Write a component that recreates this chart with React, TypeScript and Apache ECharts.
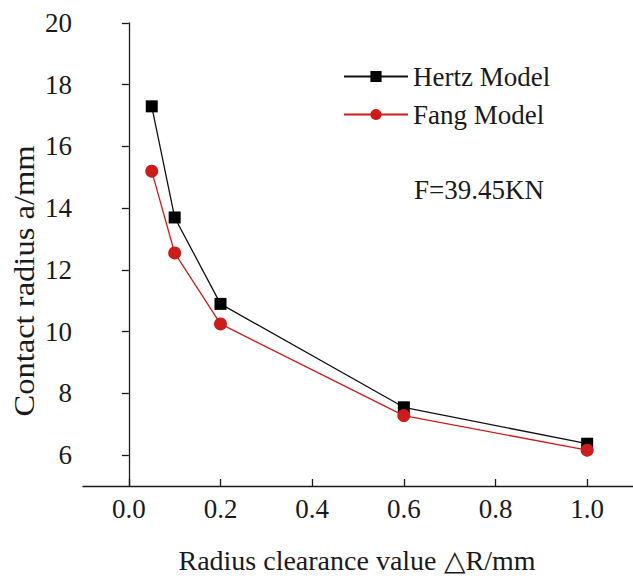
import React, { useEffect, useRef } from "react";
import * as echarts from "echarts";

// Radius clearance ΔR (mm)
const clearance = [0.05, 0.1, 0.2, 0.6, 1.0];
// Contact radius a (mm) by model
const hertzRadius = [17.3, 13.7, 10.9, 7.55, 6.37];
const fangRadius = [15.2, 12.55, 10.25, 7.28, 6.16];

const xTicks = [0.0, 0.2, 0.4, 0.6, 0.8, 1.0];
const yTicks = [6, 8, 10, 12, 14, 16, 18, 20];

const seriesNames = ["Hertz Model", "Fang Model"];
const loadLabel = "F=39.45KN";
const xAxisTitle = "Radius clearance value \u25B3R/mm";
const yAxisTitle = "Contact radius a/mm";

const FONT = "'Liberation Serif', 'Times New Roman', serif";
const INK = "#1a1a1a";
const RED = "#cc1c1c";

export default function App() {
  const ref = useRef<HTMLDivElement>(null);

  useEffect(() => {
    if (!ref.current) return;
    const chart = echarts.init(ref.current, undefined, { renderer: "svg" });

    const toPairs = (ys: number[]) => clearance.map((x, i) => [x, ys[i]]);

    chart.setOption({
      animation: false,
      backgroundColor: "#ffffff",
      grid: { left: 83, right: 0, top: 23, bottom: 96, containLabel: false },
      legend: {
        orient: "vertical",
        left: 343,
        top: 63,
        padding: 0,
        itemWidth: 64,
        itemHeight: 14,
        itemGap: 11,
        textStyle: { fontFamily: FONT, fontSize: 27, color: INK },
        data: seriesNames,
      },
      xAxis: {
        type: "value",
        min: -0.1,
        max: 1.1,
        axisLine: { show: true, lineStyle: { color: INK, width: 1.3 } },
        axisTick: {
          show: true,
          inside: true,
          length: 7,
          customValues: xTicks,
          lineStyle: { color: INK, width: 1.3 },
        },
        axisLabel: {
          customValues: xTicks,
          margin: 9,
          fontFamily: FONT,
          fontSize: 27,
          color: INK,
          formatter: (v: number) => v.toFixed(1),
        },
        splitLine: { show: false },
      },
      yAxis: {
        type: "value",
        min: 5,
        max: 20,
        axisLine: { show: true, lineStyle: { color: INK, width: 1.3 } },
        axisTick: {
          show: true,
          inside: false,
          length: 7,
          customValues: yTicks,
          lineStyle: { color: INK, width: 1.3 },
        },
        axisLabel: {
          customValues: yTicks,
          margin: 11,
          fontFamily: FONT,
          fontSize: 27,
          color: INK,
        },
        splitLine: { show: false },
      },
      series: [
        {
          name: seriesNames[0],
          type: "line",
          data: toPairs(hertzRadius),
          symbol: "rect",
          symbolSize: 12,
          lineStyle: { color: "#111111", width: 1.3 },
          itemStyle: { color: "#000000" },
          z: 2,
        },
        {
          name: seriesNames[1],
          type: "line",
          data: toPairs(fangRadius),
          symbol: "circle",
          symbolSize: 13,
          lineStyle: { color: RED, width: 1.3 },
          itemStyle: { color: RED },
          z: 3,
        },
      ],
      graphic: [
        {
          type: "text",
          left: 414,
          top: 176,
          style: { text: loadLabel, font: `27px ${FONT}`, fill: INK },
        },
        {
          type: "text",
          x: 357,
          y: 560,
          style: {
            text: xAxisTitle,
            font: `28px ${FONT}`,
            fill: INK,
            align: "center",
            verticalAlign: "middle",
          },
        },
        {
          type: "text",
          x: 24,
          y: 281,
          rotation: Math.PI / 2,
          scaleX: 1.085,
          style: {
            text: yAxisTitle,
            font: `30px ${FONT}`,
            fill: INK,
            align: "center",
            verticalAlign: "middle",
          },
        },
      ],
    });

    return () => chart.dispose();
  }, []);

  return <div ref={ref} style={{ width: 633, height: 582, position: "absolute", left: 0, top: 0 }} />;
}
